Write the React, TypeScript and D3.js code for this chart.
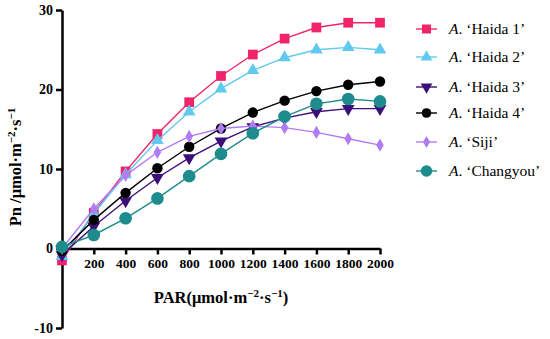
import React, { useEffect, useRef } from "react";
import * as d3 from "d3";

const par = [0, 200, 400, 600, 800, 1000, 1200, 1400, 1600, 1800, 2000];
const haida1 = [-1.5, 4.5, 9.7, 14.4, 18.4, 21.7, 24.4, 26.4, 27.8, 28.4, 28.4];
const haida2 = [-1.0, 4.4, 9.3, 13.6, 17.2, 20.1, 22.4, 24.0, 25.0, 25.3, 25.0];
const haida3 = [-0.8, 2.8, 6.0, 8.9, 11.4, 13.5, 15.3, 16.4, 17.2, 17.6, 17.6];
const haida4 = [-0.3, 3.6, 7.0, 10.1, 12.8, 15.1, 17.1, 18.6, 19.8, 20.6, 21.0];
const siji = [0.0, 5.0, 9.2, 12.1, 14.1, 15.1, 15.4, 15.2, 14.6, 13.8, 13.0];
const changyou = [0.2, 1.7, 3.8, 6.3, 9.1, 11.9, 14.5, 16.6, 18.2, 18.8, 18.5];
const yTicks = [-10, 0, 10, 20, 30];
const xTicks = [200, 400, 600, 800, 1000, 1200, 1400, 1600, 1800, 2000];

const series = [
  { name: "Haida 1", values: haida1, color: "#f0246a", symbol: d3.symbolSquare, size: 95, rotate: 0 },
  { name: "Haida 2", values: haida2, color: "#62c9ee", symbol: d3.symbolTriangle, size: 70, rotate: 0 },
  { name: "Haida 3", values: haida3, color: "#3c0f78", symbol: d3.symbolTriangle, size: 70, rotate: 180 },
  { name: "Haida 4", values: haida4, color: "#000000", symbol: d3.symbolCircle, size: 85, rotate: 0 },
  { name: "Siji", values: siji, color: "#b07cf2", symbol: d3.symbolDiamond, size: 50, rotate: 0 },
  { name: "Changyou", values: changyou, color: "#1e8c8c", symbol: d3.symbolCircle, size: 125, rotate: 0 },
];

export default function App() {
  const ref = useRef<SVGSVGElement>(null);

  useEffect(() => {
    const svg = d3.select(ref.current);
    svg.selectAll("*").remove();

    const x = d3.scaleLinear().domain([0, 2000]).range([62, 380]);
    const y = d3.scaleLinear().domain([-10, 30]).range([328, 10]);
    const font = "'Liberation Serif', 'Times New Roman', serif";

    // y axis
    const ya = svg.append("g").attr("transform", "translate(62,0)")
      .call(d3.axisLeft(y).tickValues(yTicks).tickFormat(d => String(d)).tickSize(6).tickSizeOuter(0).tickPadding(3));
    ya.select(".domain").attr("stroke-width", 2.5);
    ya.selectAll(".tick line").attr("stroke-width", 2.5);
    ya.selectAll("text").attr("font-family", font).attr("font-weight", "bold").attr("font-size", 14).attr("fill", "#000");

    // x axis at y=0
    const xa = svg.append("g").attr("transform", `translate(0,${y(0)})`)
      .call(d3.axisBottom(x).tickValues(xTicks).tickFormat(d => String(d)).tickSize(6).tickSizeOuter(0).tickPadding(4));
    xa.select(".domain").attr("stroke-width", 2.5);
    xa.selectAll(".tick line").attr("stroke-width", 2.5);
    xa.selectAll("text").attr("font-family", font).attr("font-weight", "bold").attr("font-size", 13.5).attr("fill", "#000");

    // axis titles
    const xt = svg.append("text").attr("x", 221).attr("y", 303).attr("text-anchor", "middle")
      .attr("font-family", font).attr("font-weight", "bold").attr("font-size", 16.5);
    xt.append("tspan").text("PAR(μmol·m");
    xt.append("tspan").attr("dy", -6).attr("font-size", 11).text("−2");
    xt.append("tspan").attr("dy", 6).text("·s");
    xt.append("tspan").attr("dy", -6).attr("font-size", 11).text("−1");
    xt.append("tspan").attr("dy", 6).text(")");

    const yt = svg.append("text").attr("transform", "translate(21,167) rotate(-90)").attr("text-anchor", "middle")
      .attr("font-family", font).attr("font-weight", "bold").attr("font-size", 16.5);
    yt.append("tspan").text("Pn /μmol·m");
    yt.append("tspan").attr("dy", -6).attr("font-size", 11).text("−2");
    yt.append("tspan").attr("dy", 6).text("·s");
    yt.append("tspan").attr("dy", -6).attr("font-size", 11).text("−1");

    const line = d3.line<number>().x((d, i) => x(par[i])).y(d => y(d));

    series.forEach(s => {
      const g = svg.append("g");
      g.append("path").attr("d", line(s.values)).attr("fill", "none").attr("stroke", s.color).attr("stroke-width", 1.4);
      g.selectAll("path.m").data(s.values).join("path").attr("class", "m")
        .attr("d", d3.symbol().type(s.symbol).size(s.size)())
        .attr("transform", (d, i) => `translate(${x(par[i])},${y(d)}) rotate(${s.rotate})`)
        .attr("fill", s.color);
    });

    // legend
    const rows = [29, 57, 87, 113, 142, 171];
    series.forEach((s, i) => {
      const g = svg.append("g").attr("transform", `translate(0,${rows[i]})`);
      g.append("line").attr("x1", 416).attr("x2", 437).attr("stroke", s.color).attr("stroke-width", 1.4);
      g.append("path").attr("d", d3.symbol().type(s.symbol).size(s.size * 0.85)())
        .attr("transform", `translate(426.5,0) rotate(${s.rotate})`).attr("fill", s.color);
      const t = g.append("text").attr("x", 449).attr("y", 5).attr("font-family", font).attr("font-size", 15.5);
      t.append("tspan").attr("font-style", "italic").text("A");
      t.append("tspan").text(`. ‘${s.name}’`);
    });
  }, []);

  return (
    <svg ref={ref} width={550} height={339} style={{ position: "absolute", left: 0, top: 0, background: "#fff" }} />
  );
}
